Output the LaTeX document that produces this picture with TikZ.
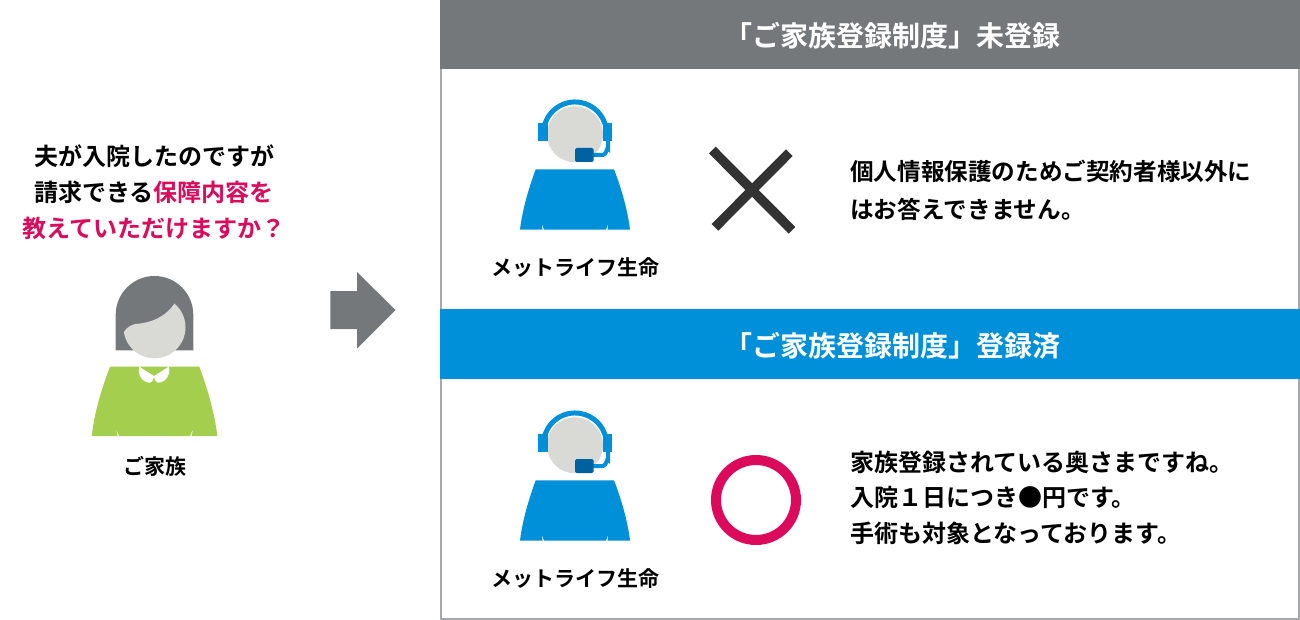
\documentclass[tikz,border=0pt]{standalone}
\usepackage{fontspec}
\setmainfont{Noto Sans CJK JP}[BoldFont={* Bold}]
\usepackage{xcolor}
\definecolor{color1}{HTML}{0090DA}
\definecolor{color2}{HTML}{75787B}
\definecolor{color3}{HTML}{D9D9D6}
\definecolor{color4}{HTML}{A4CE4E}
\definecolor{color5}{HTML}{DB0A5B}
\definecolor{color6}{HTML}{0061A0}
\definecolor{color7}{HTML}{A7A8AA}
\definecolor{color8}{HTML}{333333}
\tikzstyle{banner}=[font=\fontsize{28}{30}\selectfont\bfseries,white,inner sep=0pt]
\tikzstyle{caption}=[font=\fontsize{21}{26}\selectfont\bfseries,black,inner sep=0pt]
\tikzstyle{speech}=[font=\fontsize{24}{36}\selectfont\bfseries,black,inner sep=0pt]

\begin{document}
\begin{tikzpicture}[x=1pt,y=-1pt]
        \useasboundingbox (0,0) rectangle (1300,620);

        % panel on the right
        \node[draw=color7,line width=2pt,inner sep=0pt,minimum width=858pt,minimum height=618pt] (panel) at (870,310) {};
        \fill[color2] (440,0) rectangle (1300,69.5);
        \fill[color1] (440,309) rectangle (1300,378.5);
        \node[banner] (head1) at (892.5,35.5) {「ご家族登録制度」未登録};
        \node[banner] (head2) at (892.5,345.5) {「ご家族登録制度」登録済};

        % operators
        \foreach \i/\off in {1/0,2/311}{
          \begin{scope}[shift={(0,\off)}]
            \fill[color3] (575,134.3) circle (28);
            \draw[color1,line width=5pt] (544,128) arc[start angle=190,end angle=350,radius=31.5];
            \fill[color1] (538,122.7) rectangle (548,141);
            \fill[color1] (602.7,122.7) rectangle (612,141);
            \draw[color1,line width=4pt] (608,141) -- (608,148) to[out=90,in=0] (603,155) -- (590,155);
            \fill[color6,rounded corners=1.5pt] (575,148) rectangle (593.5,162);
            \fill[color1] (535.7,169.3) -- (614,169.3) .. controls (622,190) and (628,212) .. (630,229.7)
              -- (607.5,229.7) -- (608.5,223) -- (606,229.7) -- (544,229.7) -- (541.5,223) -- (542.5,229.7)
              -- (520,229.7) .. controls (522,212) and (528,190) .. (535.7,169.3) -- cycle;
            \node[caption] (staff\i) at (575,268) {メットライフ生命};
          \end{scope}
        }

        % family member
        \fill[color2] (115.7,350.3) -- (115.7,314.8) arc[start angle=180,end angle=360,radius=38.8] -- (193.3,350.3) -- cycle;
        \begin{scope}
          \clip (175,302.7) .. controls (165,318) and (150,323) .. (135,324) .. controls (128,326) and (124,330) .. (122,336)
            -- (122,362) -- (190,362) -- (190,302.7) -- cycle;
          \fill[color3] (154.5,327.3) circle (31);
        \end{scope}
        \fill[color4] (110,366.7) -- (199.3,366.7) .. controls (208,390) and (215,415) .. (217.3,436)
          -- (191.7,436) -- (193.3,428.3) -- (190,436) -- (119,436) -- (115.7,428.3) -- (117.7,436)
          -- (91.7,436) .. controls (94,415) and (101,390) .. (110,366.7) -- cycle;
        \fill[white] (139.3,366.7) -- (154,376) -- (168.8,366.7) .. controls (171,374) and (166,382.7) .. (158,382.7)
          .. controls (156,382.7) and (155,380) .. (154,377) .. controls (153,380) and (152,382.7) .. (150,382.7)
          .. controls (142,382.7) and (137,374) .. (139.3,366.7) -- cycle;
        \node[caption] (family) at (155,466) {ご家族};

        % arrow
        \fill[color2] (330.3,291) -- (357,291) -- (357,272) -- (395.5,310) -- (357,348.5) -- (357,329) -- (330.3,329) -- cycle;

        % marks
        \draw[color8,line width=9.5pt] (712.3,150) -- (792,230.3);
        \draw[color8,line width=9.5pt] (789.3,152.7) -- (715,227.3);
        \draw[color5,line width=10pt] (756,500) circle (40);

        % texts
        \node[speech,align=center] (question) at (154,192.5) {夫が入院したのですが\\請求できる\textcolor{color5}{保障内容を}\\\textcolor{color5}{教えていただけますか？}};
        \node[speech,align=left,anchor=west,font=\fontsize{23.6}{38}\selectfont\bfseries] (answer1) at (850,190.5) {個人情報保護のためご契約者様以外に\\はお答えできません。};
        \node[speech,align=left,anchor=west,font=\fontsize{24}{35.5}\selectfont\bfseries] (answer2) at (850,497.5) {家族登録されている奥さまですね。\\入院１日につき●円です。\\手術も対象となっております。};
\end{tikzpicture}
\end{document}
